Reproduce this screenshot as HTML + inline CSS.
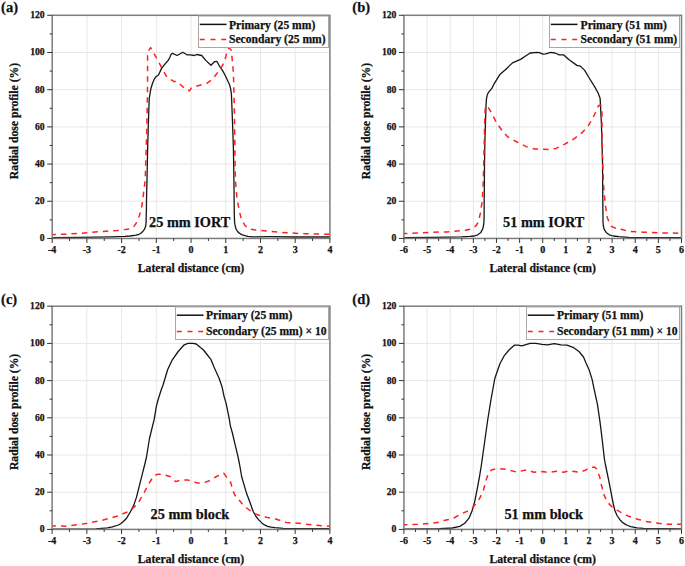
<!DOCTYPE html>
<html><head><meta charset="utf-8"><title>Radial dose profiles</title>
<style>html,body{margin:0;padding:0;background:#fff;width:685px;height:566px;overflow:hidden}
svg text{font-family:"Liberation Serif", serif;fill:#111;stroke:#111;stroke-width:0.25px}</style></head>
<body>
<svg width="685" height="566" viewBox="0 0 685 566" style="display:block">
<rect width="685" height="566" fill="#fff"/>
<g><line x1="86.91" y1="15.3" x2="86.91" y2="238.45" stroke="#e7e7e7" stroke-width="1"/><line x1="121.62" y1="15.3" x2="121.62" y2="238.45" stroke="#e7e7e7" stroke-width="1"/><line x1="156.34" y1="15.3" x2="156.34" y2="238.45" stroke="#e7e7e7" stroke-width="1"/><line x1="191.05" y1="15.3" x2="191.05" y2="238.45" stroke="#e7e7e7" stroke-width="1"/><line x1="225.76" y1="15.3" x2="225.76" y2="238.45" stroke="#e7e7e7" stroke-width="1"/><line x1="260.47" y1="15.3" x2="260.47" y2="238.45" stroke="#e7e7e7" stroke-width="1"/><line x1="295.19" y1="15.3" x2="295.19" y2="238.45" stroke="#e7e7e7" stroke-width="1"/><line x1="52.2" y1="201.26" x2="329.9" y2="201.26" stroke="#e7e7e7" stroke-width="1"/><line x1="52.2" y1="164.07" x2="329.9" y2="164.07" stroke="#e7e7e7" stroke-width="1"/><line x1="52.2" y1="126.88" x2="329.9" y2="126.88" stroke="#e7e7e7" stroke-width="1"/><line x1="52.2" y1="89.68" x2="329.9" y2="89.68" stroke="#e7e7e7" stroke-width="1"/><line x1="52.2" y1="52.49" x2="329.9" y2="52.49" stroke="#e7e7e7" stroke-width="1"/><polyline points="52.2,237.7 81.2,237.4 110.4,236.9 125,236.4 130,236 136.1,235.2 139,234.3 140.9,233.2 143,231.2 144.4,229.4 145.6,226.5 146.1,222.5 146.2,217 146.4,209.2 146.6,194.6 147,180 147.6,150 148.3,125 148.8,110 149.3,98 150.2,92.7 151,88.2 152.4,83.8 154.1,79.4 155.9,76.8 158.5,75 159.9,71.9 161.6,68.4 164.3,64.9 166.5,62.2 168.2,60.4 169.8,57.5 171.1,54.2 172.4,53.3 177.2,55.5 182.8,52.3 186.9,54.8 190.4,54.8 194.5,55.5 196.6,54.5 201.7,55.5 205.8,60.4 210.9,65.3 214.5,61.7 217,61.5 220.1,67.2 222.6,70.6 225.5,76 227.9,81.2 229.5,84.5 230.6,88.7 231.4,94 231.9,106.2 232.7,127.4 233.4,148.6 233.7,165 234.1,195.7 234.3,215 234.6,222.5 235.2,226 236.3,229.6 238.3,232.4 240.3,233.8 242.3,234.8 245,235.7 247.9,236.4 252,236.8 271,236.7 294,237 329.8,237" fill="none" stroke="#161616" stroke-width="1.3" stroke-linejoin="round"/><polyline points="52.2,234.7 69.5,234 87,232.8 103.1,231.4 117.7,230.4 129.4,228.9 133.8,226.7 136.7,222.3 139.6,215 141.8,206.3 143.2,196.1 144.3,187.3 145.2,180 146.8,130 147.5,90 147.6,52.2 150.6,47.6 158.5,61.5 161.8,68.2 167.1,77.4 173.8,81.4 177.1,81.4 185.3,89 189.5,90.9 191.5,87.5 200.7,85 206.8,83.4 212.9,78.8 219,70.7 224.2,62.5 226.7,53.3 228.8,47.7 231.3,50.2 232.3,60.4 233.4,72.7 233.9,90 234.4,113.3 234.8,141.5 235.1,165 235.4,180.3 237,198.7 238.8,207.9 241.1,218.6 244.9,225.5 249.5,229.1 255.7,230.1 267.9,231.2 286.3,232.8 304.7,233.7 329.8,234.3" fill="none" stroke="#ff2020" stroke-width="1.5" stroke-dasharray="5.5 5" stroke-dashoffset="1.8" stroke-linejoin="round"/><rect x="52.2" y="15.3" width="277.7" height="223.15" fill="none" stroke="#7c7c7c" stroke-width="1.5"/><line x1="47.2" y1="238.45" x2="52.2" y2="238.45" stroke="#333" stroke-width="1"/><text x="44.7" y="241.35" text-anchor="end" font-size="9.7" font-weight="bold">0</text><line x1="49.7" y1="219.85" x2="52.2" y2="219.85" stroke="#333" stroke-width="1"/><line x1="47.2" y1="201.26" x2="52.2" y2="201.26" stroke="#333" stroke-width="1"/><text x="44.7" y="204.16" text-anchor="end" font-size="9.7" font-weight="bold">20</text><line x1="49.7" y1="182.66" x2="52.2" y2="182.66" stroke="#333" stroke-width="1"/><line x1="47.2" y1="164.07" x2="52.2" y2="164.07" stroke="#333" stroke-width="1"/><text x="44.7" y="166.97" text-anchor="end" font-size="9.7" font-weight="bold">40</text><line x1="49.7" y1="145.47" x2="52.2" y2="145.47" stroke="#333" stroke-width="1"/><line x1="47.2" y1="126.88" x2="52.2" y2="126.88" stroke="#333" stroke-width="1"/><text x="44.7" y="129.78" text-anchor="end" font-size="9.7" font-weight="bold">60</text><line x1="49.7" y1="108.28" x2="52.2" y2="108.28" stroke="#333" stroke-width="1"/><line x1="47.2" y1="89.68" x2="52.2" y2="89.68" stroke="#333" stroke-width="1"/><text x="44.7" y="92.58" text-anchor="end" font-size="9.7" font-weight="bold">80</text><line x1="49.7" y1="71.09" x2="52.2" y2="71.09" stroke="#333" stroke-width="1"/><line x1="47.2" y1="52.49" x2="52.2" y2="52.49" stroke="#333" stroke-width="1"/><text x="44.7" y="55.39" text-anchor="end" font-size="9.7" font-weight="bold">100</text><line x1="49.7" y1="33.9" x2="52.2" y2="33.9" stroke="#333" stroke-width="1"/><line x1="47.2" y1="15.3" x2="52.2" y2="15.3" stroke="#333" stroke-width="1"/><text x="44.7" y="18.2" text-anchor="end" font-size="9.7" font-weight="bold">120</text><line x1="52.2" y1="238.45" x2="52.2" y2="242.95" stroke="#333" stroke-width="1"/><text x="52.2" y="253.05" text-anchor="middle" font-size="10" font-weight="bold">-4</text><line x1="69.56" y1="238.45" x2="69.56" y2="240.95" stroke="#333" stroke-width="1"/><line x1="86.91" y1="238.45" x2="86.91" y2="242.95" stroke="#333" stroke-width="1"/><text x="86.91" y="253.05" text-anchor="middle" font-size="10" font-weight="bold">-3</text><line x1="104.27" y1="238.45" x2="104.27" y2="240.95" stroke="#333" stroke-width="1"/><line x1="121.62" y1="238.45" x2="121.62" y2="242.95" stroke="#333" stroke-width="1"/><text x="121.62" y="253.05" text-anchor="middle" font-size="10" font-weight="bold">-2</text><line x1="138.98" y1="238.45" x2="138.98" y2="240.95" stroke="#333" stroke-width="1"/><line x1="156.34" y1="238.45" x2="156.34" y2="242.95" stroke="#333" stroke-width="1"/><text x="156.34" y="253.05" text-anchor="middle" font-size="10" font-weight="bold">-1</text><line x1="173.69" y1="238.45" x2="173.69" y2="240.95" stroke="#333" stroke-width="1"/><line x1="191.05" y1="238.45" x2="191.05" y2="242.95" stroke="#333" stroke-width="1"/><text x="191.05" y="253.05" text-anchor="middle" font-size="10" font-weight="bold">0</text><line x1="208.41" y1="238.45" x2="208.41" y2="240.95" stroke="#333" stroke-width="1"/><line x1="225.76" y1="238.45" x2="225.76" y2="242.95" stroke="#333" stroke-width="1"/><text x="225.76" y="253.05" text-anchor="middle" font-size="10" font-weight="bold">1</text><line x1="243.12" y1="238.45" x2="243.12" y2="240.95" stroke="#333" stroke-width="1"/><line x1="260.47" y1="238.45" x2="260.47" y2="242.95" stroke="#333" stroke-width="1"/><text x="260.47" y="253.05" text-anchor="middle" font-size="10" font-weight="bold">2</text><line x1="277.83" y1="238.45" x2="277.83" y2="240.95" stroke="#333" stroke-width="1"/><line x1="295.19" y1="238.45" x2="295.19" y2="242.95" stroke="#333" stroke-width="1"/><text x="295.19" y="253.05" text-anchor="middle" font-size="10" font-weight="bold">3</text><line x1="312.54" y1="238.45" x2="312.54" y2="240.95" stroke="#333" stroke-width="1"/><line x1="329.9" y1="238.45" x2="329.9" y2="242.95" stroke="#333" stroke-width="1"/><text x="329.9" y="253.05" text-anchor="middle" font-size="10" font-weight="bold">4</text><text x="191.05" y="271.95" text-anchor="middle" font-size="11.7" font-weight="bold">Lateral distance (cm)</text><text transform="translate(17.9,120.97) rotate(-90)" text-anchor="middle" font-size="11.7" font-weight="bold">Radial dose profile (%)</text><text x="1.1" y="11.8" font-size="14.5" font-weight="bold">(a)</text><text x="189.7" y="227.3" text-anchor="middle" font-size="14.3" font-weight="bold">25 mm IORT</text><rect x="198.5" y="16.05" width="130" height="31.45" fill="#fff" stroke="#a8a8a8" stroke-width="1"/><line x1="199.8" y1="24.4" x2="226.5" y2="24.4" stroke="#111" stroke-width="1.5"/><line x1="199.8" y1="39.4" x2="226.5" y2="39.4" stroke="#ff2020" stroke-width="1.5" stroke-dasharray="5 5.7"/><text x="229" y="28.6" font-size="11.6" font-weight="bold">Primary (25 mm)</text><text x="229" y="42.9" font-size="11.6" font-weight="bold">Secondary (25 mm)</text></g>
<g><line x1="427.08" y1="15.3" x2="427.08" y2="238.45" stroke="#e7e7e7" stroke-width="1"/><line x1="450.21" y1="15.3" x2="450.21" y2="238.45" stroke="#e7e7e7" stroke-width="1"/><line x1="473.34" y1="15.3" x2="473.34" y2="238.45" stroke="#e7e7e7" stroke-width="1"/><line x1="496.47" y1="15.3" x2="496.47" y2="238.45" stroke="#e7e7e7" stroke-width="1"/><line x1="519.6" y1="15.3" x2="519.6" y2="238.45" stroke="#e7e7e7" stroke-width="1"/><line x1="542.73" y1="15.3" x2="542.73" y2="238.45" stroke="#e7e7e7" stroke-width="1"/><line x1="565.85" y1="15.3" x2="565.85" y2="238.45" stroke="#e7e7e7" stroke-width="1"/><line x1="588.98" y1="15.3" x2="588.98" y2="238.45" stroke="#e7e7e7" stroke-width="1"/><line x1="612.11" y1="15.3" x2="612.11" y2="238.45" stroke="#e7e7e7" stroke-width="1"/><line x1="635.24" y1="15.3" x2="635.24" y2="238.45" stroke="#e7e7e7" stroke-width="1"/><line x1="658.37" y1="15.3" x2="658.37" y2="238.45" stroke="#e7e7e7" stroke-width="1"/><line x1="403.95" y1="201.26" x2="681.5" y2="201.26" stroke="#e7e7e7" stroke-width="1"/><line x1="403.95" y1="164.07" x2="681.5" y2="164.07" stroke="#e7e7e7" stroke-width="1"/><line x1="403.95" y1="126.88" x2="681.5" y2="126.88" stroke="#e7e7e7" stroke-width="1"/><line x1="403.95" y1="89.68" x2="681.5" y2="89.68" stroke="#e7e7e7" stroke-width="1"/><line x1="403.95" y1="52.49" x2="681.5" y2="52.49" stroke="#e7e7e7" stroke-width="1"/><polyline points="403.7,237.6 432.2,237.3 461.4,236.8 469.8,236.4 474.5,236 477.7,234.8 480.9,232.4 482.9,228.4 483.8,224 484.1,218 484.2,201.5 484.5,165 484.9,140.9 486,106.5 486.4,99.4 487.2,95 488.5,92.3 492,88.1 494.1,83.8 499.8,74.6 505.4,69.7 512.5,62.9 521,59.1 525.2,56.3 530.2,53 536.5,52.4 539.4,52.7 542.9,54.1 545.7,53.9 550.7,52.4 555,53 559.2,54.8 563.5,54.8 569.1,59.8 576.9,65.4 580.4,66.1 584.7,70.4 588.9,77.5 594.6,86.6 598.1,93 600,98 600.2,99.6 601.4,123.7 602.5,160 602.8,201.5 603,222 603.3,225.5 604.1,229.2 606.1,232.4 609.3,234.8 613.3,236 618.9,236.6 628.8,237.3 681.4,237.6" fill="none" stroke="#161616" stroke-width="1.3" stroke-linejoin="round"/><polyline points="403.7,233.6 417.6,232.9 432.2,232.2 446.8,231.9 461.4,230.7 466,230.2 470.6,229.2 474.5,227.2 476.5,225 478.1,222.4 479.3,217.7 480.5,212.9 481.3,206.9 482.1,201.8 482.6,195 483.1,185 483.4,176.7 483.7,165 484.3,140 484.8,115 485.5,105.9 488.3,107.6 491.8,113.4 496.4,122.5 502.1,130.6 507.8,136.9 517,142 526.2,146.6 534.2,148.9 542.3,149.2 550.3,149.5 556.1,148.4 565.2,143.8 574.4,138.6 582.5,132.3 588.2,126 592.8,118 596.2,111.1 598.5,105.6 600.8,105.3 602,112.2 602,129.4 602.5,160 602.8,165 603.7,186.9 604.6,198 605.5,206 606.5,212.1 607.3,217.7 609.3,222.4 611.3,226.4 616.1,228.4 622,229.6 628.8,231.4 643.4,232.2 658,232.9 681.4,233.2" fill="none" stroke="#ff2020" stroke-width="1.5" stroke-dasharray="5.5 5" stroke-dashoffset="1.8" stroke-linejoin="round"/><rect x="403.95" y="15.3" width="277.55" height="223.15" fill="none" stroke="#7c7c7c" stroke-width="1.5"/><line x1="398.95" y1="238.45" x2="403.95" y2="238.45" stroke="#333" stroke-width="1"/><text x="396.45" y="241.35" text-anchor="end" font-size="9.7" font-weight="bold">0</text><line x1="401.45" y1="219.85" x2="403.95" y2="219.85" stroke="#333" stroke-width="1"/><line x1="398.95" y1="201.26" x2="403.95" y2="201.26" stroke="#333" stroke-width="1"/><text x="396.45" y="204.16" text-anchor="end" font-size="9.7" font-weight="bold">20</text><line x1="401.45" y1="182.66" x2="403.95" y2="182.66" stroke="#333" stroke-width="1"/><line x1="398.95" y1="164.07" x2="403.95" y2="164.07" stroke="#333" stroke-width="1"/><text x="396.45" y="166.97" text-anchor="end" font-size="9.7" font-weight="bold">40</text><line x1="401.45" y1="145.47" x2="403.95" y2="145.47" stroke="#333" stroke-width="1"/><line x1="398.95" y1="126.88" x2="403.95" y2="126.88" stroke="#333" stroke-width="1"/><text x="396.45" y="129.78" text-anchor="end" font-size="9.7" font-weight="bold">60</text><line x1="401.45" y1="108.28" x2="403.95" y2="108.28" stroke="#333" stroke-width="1"/><line x1="398.95" y1="89.68" x2="403.95" y2="89.68" stroke="#333" stroke-width="1"/><text x="396.45" y="92.58" text-anchor="end" font-size="9.7" font-weight="bold">80</text><line x1="401.45" y1="71.09" x2="403.95" y2="71.09" stroke="#333" stroke-width="1"/><line x1="398.95" y1="52.49" x2="403.95" y2="52.49" stroke="#333" stroke-width="1"/><text x="396.45" y="55.39" text-anchor="end" font-size="9.7" font-weight="bold">100</text><line x1="401.45" y1="33.9" x2="403.95" y2="33.9" stroke="#333" stroke-width="1"/><line x1="398.95" y1="15.3" x2="403.95" y2="15.3" stroke="#333" stroke-width="1"/><text x="396.45" y="18.2" text-anchor="end" font-size="9.7" font-weight="bold">120</text><line x1="403.95" y1="238.45" x2="403.95" y2="242.95" stroke="#333" stroke-width="1"/><text x="403.95" y="253.05" text-anchor="middle" font-size="10" font-weight="bold">-6</text><line x1="415.51" y1="238.45" x2="415.51" y2="240.95" stroke="#333" stroke-width="1"/><line x1="427.08" y1="238.45" x2="427.08" y2="242.95" stroke="#333" stroke-width="1"/><text x="427.08" y="253.05" text-anchor="middle" font-size="10" font-weight="bold">-5</text><line x1="438.64" y1="238.45" x2="438.64" y2="240.95" stroke="#333" stroke-width="1"/><line x1="450.21" y1="238.45" x2="450.21" y2="242.95" stroke="#333" stroke-width="1"/><text x="450.21" y="253.05" text-anchor="middle" font-size="10" font-weight="bold">-4</text><line x1="461.77" y1="238.45" x2="461.77" y2="240.95" stroke="#333" stroke-width="1"/><line x1="473.34" y1="238.45" x2="473.34" y2="242.95" stroke="#333" stroke-width="1"/><text x="473.34" y="253.05" text-anchor="middle" font-size="10" font-weight="bold">-3</text><line x1="484.9" y1="238.45" x2="484.9" y2="240.95" stroke="#333" stroke-width="1"/><line x1="496.47" y1="238.45" x2="496.47" y2="242.95" stroke="#333" stroke-width="1"/><text x="496.47" y="253.05" text-anchor="middle" font-size="10" font-weight="bold">-2</text><line x1="508.03" y1="238.45" x2="508.03" y2="240.95" stroke="#333" stroke-width="1"/><line x1="519.6" y1="238.45" x2="519.6" y2="242.95" stroke="#333" stroke-width="1"/><text x="519.6" y="253.05" text-anchor="middle" font-size="10" font-weight="bold">-1</text><line x1="531.16" y1="238.45" x2="531.16" y2="240.95" stroke="#333" stroke-width="1"/><line x1="542.73" y1="238.45" x2="542.73" y2="242.95" stroke="#333" stroke-width="1"/><text x="542.73" y="253.05" text-anchor="middle" font-size="10" font-weight="bold">0</text><line x1="554.29" y1="238.45" x2="554.29" y2="240.95" stroke="#333" stroke-width="1"/><line x1="565.85" y1="238.45" x2="565.85" y2="242.95" stroke="#333" stroke-width="1"/><text x="565.85" y="253.05" text-anchor="middle" font-size="10" font-weight="bold">1</text><line x1="577.42" y1="238.45" x2="577.42" y2="240.95" stroke="#333" stroke-width="1"/><line x1="588.98" y1="238.45" x2="588.98" y2="242.95" stroke="#333" stroke-width="1"/><text x="588.98" y="253.05" text-anchor="middle" font-size="10" font-weight="bold">2</text><line x1="600.55" y1="238.45" x2="600.55" y2="240.95" stroke="#333" stroke-width="1"/><line x1="612.11" y1="238.45" x2="612.11" y2="242.95" stroke="#333" stroke-width="1"/><text x="612.11" y="253.05" text-anchor="middle" font-size="10" font-weight="bold">3</text><line x1="623.68" y1="238.45" x2="623.68" y2="240.95" stroke="#333" stroke-width="1"/><line x1="635.24" y1="238.45" x2="635.24" y2="242.95" stroke="#333" stroke-width="1"/><text x="635.24" y="253.05" text-anchor="middle" font-size="10" font-weight="bold">4</text><line x1="646.81" y1="238.45" x2="646.81" y2="240.95" stroke="#333" stroke-width="1"/><line x1="658.37" y1="238.45" x2="658.37" y2="242.95" stroke="#333" stroke-width="1"/><text x="658.37" y="253.05" text-anchor="middle" font-size="10" font-weight="bold">5</text><line x1="669.94" y1="238.45" x2="669.94" y2="240.95" stroke="#333" stroke-width="1"/><line x1="681.5" y1="238.45" x2="681.5" y2="242.95" stroke="#333" stroke-width="1"/><text x="681.5" y="253.05" text-anchor="middle" font-size="10" font-weight="bold">6</text><text x="542.73" y="271.95" text-anchor="middle" font-size="11.7" font-weight="bold">Lateral distance (cm)</text><text transform="translate(369.65,120.97) rotate(-90)" text-anchor="middle" font-size="11.7" font-weight="bold">Radial dose profile (%)</text><text x="352.3" y="11.8" font-size="14.5" font-weight="bold">(b)</text><text x="543.7" y="227.3" text-anchor="middle" font-size="14.3" font-weight="bold">51 mm IORT</text><rect x="549.5" y="16.05" width="130" height="31.45" fill="#fff" stroke="#a8a8a8" stroke-width="1"/><line x1="550.8" y1="24.4" x2="577.5" y2="24.4" stroke="#111" stroke-width="1.5"/><line x1="550.8" y1="39.4" x2="577.5" y2="39.4" stroke="#ff2020" stroke-width="1.5" stroke-dasharray="5 5.7"/><text x="580.6" y="28.6" font-size="11.6" font-weight="bold">Primary (51 mm)</text><text x="580.6" y="42.9" font-size="11.6" font-weight="bold">Secondary (51 mm)</text></g>
<g><line x1="86.82" y1="306.2" x2="86.82" y2="529.4" stroke="#e7e7e7" stroke-width="1"/><line x1="121.55" y1="306.2" x2="121.55" y2="529.4" stroke="#e7e7e7" stroke-width="1"/><line x1="156.27" y1="306.2" x2="156.27" y2="529.4" stroke="#e7e7e7" stroke-width="1"/><line x1="191" y1="306.2" x2="191" y2="529.4" stroke="#e7e7e7" stroke-width="1"/><line x1="225.72" y1="306.2" x2="225.72" y2="529.4" stroke="#e7e7e7" stroke-width="1"/><line x1="260.45" y1="306.2" x2="260.45" y2="529.4" stroke="#e7e7e7" stroke-width="1"/><line x1="295.17" y1="306.2" x2="295.17" y2="529.4" stroke="#e7e7e7" stroke-width="1"/><line x1="52.1" y1="492.2" x2="329.9" y2="492.2" stroke="#e7e7e7" stroke-width="1"/><line x1="52.1" y1="455" x2="329.9" y2="455" stroke="#e7e7e7" stroke-width="1"/><line x1="52.1" y1="417.8" x2="329.9" y2="417.8" stroke="#e7e7e7" stroke-width="1"/><line x1="52.1" y1="380.6" x2="329.9" y2="380.6" stroke="#e7e7e7" stroke-width="1"/><line x1="52.1" y1="343.4" x2="329.9" y2="343.4" stroke="#e7e7e7" stroke-width="1"/><polyline points="52.2,529.2 95.8,528.9 107.5,527.9 112.4,526.8 118.6,525 122.3,522.5 126.6,518.2 130.3,512 134,504.6 136.5,497.1 139,487.2 142.1,474.9 144.6,465 146.5,457 149.4,439 151.8,429 154.2,419.4 156.3,406.7 158,400 159.9,394 161.5,389 163.2,384.5 167.7,369.5 172.3,359.8 178.2,351.5 184.2,344.8 188,343.3 193.2,343.3 196.2,344 203.5,350 207,354.5 210.7,359.1 214.2,367.6 219.1,378.2 222,386.7 224.1,396.6 226.2,403.6 227.6,410.7 229.3,419 230.3,425.6 232.4,433 235.1,444.7 237.7,455.3 239.5,464 240.8,471.5 241.6,476.5 243.4,482.6 246.8,494.1 250.3,503.3 253.2,511.5 256,516.5 258.8,519.9 261.8,522.9 264.5,524.9 267.5,526.3 271,527.2 275,527.7 283.2,528.3 329.8,528.6" fill="none" stroke="#161616" stroke-width="1.3" stroke-linejoin="round"/><polyline points="52.2,525.8 66.6,526.2 85.6,523.6 103.1,520 112.4,517.5 118.6,515.7 123.5,513.5 129.1,511.2 133.4,507.6 137.8,503.9 140.8,498.4 143.3,494.7 145.8,489.3 148.3,484.8 151.4,479.5 155.7,474.9 158.1,474.3 162.5,474.3 169.8,476.5 175.7,481.6 181.5,479.9 187.3,479.9 193.2,481.6 197.6,483.1 204.9,482.4 210.7,480.2 216.5,476.5 223.8,473.3 227.3,478.3 230.7,482.5 232,487.5 233.6,492.4 235.9,497 239.9,501 243.4,505.5 247.4,508.5 252.6,512.3 256,514.3 261.8,516 266.4,517.3 272.1,518.4 275.6,519 286.3,522.4 298.6,523.2 313.9,525.2 329.8,526.3" fill="none" stroke="#ff2020" stroke-width="1.5" stroke-dasharray="5.5 5" stroke-dashoffset="1.8" stroke-linejoin="round"/><rect x="52.1" y="306.2" width="277.8" height="223.2" fill="none" stroke="#7c7c7c" stroke-width="1.5"/><line x1="47.1" y1="529.4" x2="52.1" y2="529.4" stroke="#333" stroke-width="1"/><text x="44.6" y="532.3" text-anchor="end" font-size="9.7" font-weight="bold">0</text><line x1="49.6" y1="510.8" x2="52.1" y2="510.8" stroke="#333" stroke-width="1"/><line x1="47.1" y1="492.2" x2="52.1" y2="492.2" stroke="#333" stroke-width="1"/><text x="44.6" y="495.1" text-anchor="end" font-size="9.7" font-weight="bold">20</text><line x1="49.6" y1="473.6" x2="52.1" y2="473.6" stroke="#333" stroke-width="1"/><line x1="47.1" y1="455" x2="52.1" y2="455" stroke="#333" stroke-width="1"/><text x="44.6" y="457.9" text-anchor="end" font-size="9.7" font-weight="bold">40</text><line x1="49.6" y1="436.4" x2="52.1" y2="436.4" stroke="#333" stroke-width="1"/><line x1="47.1" y1="417.8" x2="52.1" y2="417.8" stroke="#333" stroke-width="1"/><text x="44.6" y="420.7" text-anchor="end" font-size="9.7" font-weight="bold">60</text><line x1="49.6" y1="399.2" x2="52.1" y2="399.2" stroke="#333" stroke-width="1"/><line x1="47.1" y1="380.6" x2="52.1" y2="380.6" stroke="#333" stroke-width="1"/><text x="44.6" y="383.5" text-anchor="end" font-size="9.7" font-weight="bold">80</text><line x1="49.6" y1="362" x2="52.1" y2="362" stroke="#333" stroke-width="1"/><line x1="47.1" y1="343.4" x2="52.1" y2="343.4" stroke="#333" stroke-width="1"/><text x="44.6" y="346.3" text-anchor="end" font-size="9.7" font-weight="bold">100</text><line x1="49.6" y1="324.8" x2="52.1" y2="324.8" stroke="#333" stroke-width="1"/><line x1="47.1" y1="306.2" x2="52.1" y2="306.2" stroke="#333" stroke-width="1"/><text x="44.6" y="309.1" text-anchor="end" font-size="9.7" font-weight="bold">120</text><line x1="52.1" y1="529.4" x2="52.1" y2="533.9" stroke="#333" stroke-width="1"/><text x="52.1" y="544" text-anchor="middle" font-size="10" font-weight="bold">-4</text><line x1="69.46" y1="529.4" x2="69.46" y2="531.9" stroke="#333" stroke-width="1"/><line x1="86.82" y1="529.4" x2="86.82" y2="533.9" stroke="#333" stroke-width="1"/><text x="86.82" y="544" text-anchor="middle" font-size="10" font-weight="bold">-3</text><line x1="104.19" y1="529.4" x2="104.19" y2="531.9" stroke="#333" stroke-width="1"/><line x1="121.55" y1="529.4" x2="121.55" y2="533.9" stroke="#333" stroke-width="1"/><text x="121.55" y="544" text-anchor="middle" font-size="10" font-weight="bold">-2</text><line x1="138.91" y1="529.4" x2="138.91" y2="531.9" stroke="#333" stroke-width="1"/><line x1="156.27" y1="529.4" x2="156.27" y2="533.9" stroke="#333" stroke-width="1"/><text x="156.27" y="544" text-anchor="middle" font-size="10" font-weight="bold">-1</text><line x1="173.64" y1="529.4" x2="173.64" y2="531.9" stroke="#333" stroke-width="1"/><line x1="191" y1="529.4" x2="191" y2="533.9" stroke="#333" stroke-width="1"/><text x="191" y="544" text-anchor="middle" font-size="10" font-weight="bold">0</text><line x1="208.36" y1="529.4" x2="208.36" y2="531.9" stroke="#333" stroke-width="1"/><line x1="225.72" y1="529.4" x2="225.72" y2="533.9" stroke="#333" stroke-width="1"/><text x="225.72" y="544" text-anchor="middle" font-size="10" font-weight="bold">1</text><line x1="243.09" y1="529.4" x2="243.09" y2="531.9" stroke="#333" stroke-width="1"/><line x1="260.45" y1="529.4" x2="260.45" y2="533.9" stroke="#333" stroke-width="1"/><text x="260.45" y="544" text-anchor="middle" font-size="10" font-weight="bold">2</text><line x1="277.81" y1="529.4" x2="277.81" y2="531.9" stroke="#333" stroke-width="1"/><line x1="295.17" y1="529.4" x2="295.17" y2="533.9" stroke="#333" stroke-width="1"/><text x="295.17" y="544" text-anchor="middle" font-size="10" font-weight="bold">3</text><line x1="312.54" y1="529.4" x2="312.54" y2="531.9" stroke="#333" stroke-width="1"/><line x1="329.9" y1="529.4" x2="329.9" y2="533.9" stroke="#333" stroke-width="1"/><text x="329.9" y="544" text-anchor="middle" font-size="10" font-weight="bold">4</text><text x="191" y="562.9" text-anchor="middle" font-size="11.7" font-weight="bold">Lateral distance (cm)</text><text transform="translate(17.8,411.9) rotate(-90)" text-anchor="middle" font-size="11.7" font-weight="bold">Radial dose profile (%)</text><text x="1.1" y="303.5" font-size="14.5" font-weight="bold">(c)</text><text x="189.9" y="518.5" text-anchor="middle" font-size="14.3" font-weight="bold">25 mm block</text><rect x="175.5" y="306.95" width="153" height="32.55" fill="#fff" stroke="#a8a8a8" stroke-width="1"/><line x1="176.8" y1="315.2" x2="203.5" y2="315.2" stroke="#111" stroke-width="1.5"/><line x1="176.8" y1="331.4" x2="203.5" y2="331.4" stroke="#ff2020" stroke-width="1.5" stroke-dasharray="5 5.7"/><text x="206" y="319.2" font-size="11.6" font-weight="bold">Primary (25 mm)</text><text x="206" y="334.5" font-size="11.6" font-weight="bold">Secondary (25 mm) × 10</text></g>
<g><line x1="427.08" y1="306.2" x2="427.08" y2="529.4" stroke="#e7e7e7" stroke-width="1"/><line x1="450.21" y1="306.2" x2="450.21" y2="529.4" stroke="#e7e7e7" stroke-width="1"/><line x1="473.34" y1="306.2" x2="473.34" y2="529.4" stroke="#e7e7e7" stroke-width="1"/><line x1="496.47" y1="306.2" x2="496.47" y2="529.4" stroke="#e7e7e7" stroke-width="1"/><line x1="519.6" y1="306.2" x2="519.6" y2="529.4" stroke="#e7e7e7" stroke-width="1"/><line x1="542.73" y1="306.2" x2="542.73" y2="529.4" stroke="#e7e7e7" stroke-width="1"/><line x1="565.85" y1="306.2" x2="565.85" y2="529.4" stroke="#e7e7e7" stroke-width="1"/><line x1="588.98" y1="306.2" x2="588.98" y2="529.4" stroke="#e7e7e7" stroke-width="1"/><line x1="612.11" y1="306.2" x2="612.11" y2="529.4" stroke="#e7e7e7" stroke-width="1"/><line x1="635.24" y1="306.2" x2="635.24" y2="529.4" stroke="#e7e7e7" stroke-width="1"/><line x1="658.37" y1="306.2" x2="658.37" y2="529.4" stroke="#e7e7e7" stroke-width="1"/><line x1="403.95" y1="492.2" x2="681.5" y2="492.2" stroke="#e7e7e7" stroke-width="1"/><line x1="403.95" y1="455" x2="681.5" y2="455" stroke="#e7e7e7" stroke-width="1"/><line x1="403.95" y1="417.8" x2="681.5" y2="417.8" stroke="#e7e7e7" stroke-width="1"/><line x1="403.95" y1="380.6" x2="681.5" y2="380.6" stroke="#e7e7e7" stroke-width="1"/><line x1="403.95" y1="343.4" x2="681.5" y2="343.4" stroke="#e7e7e7" stroke-width="1"/><polyline points="403.7,529.2 439.5,528.7 452.4,528 459.8,526.4 464.7,523.3 469,518.2 472.1,510.7 474.6,502.1 477.1,489.7 479.6,476.1 481.4,465 482.8,455 487.7,420 491,399.5 494.8,378.5 500,363.5 504.5,355.3 509,350 514.3,345.2 518,345.2 521.8,345.8 530,343.3 536,343.3 542,344.3 547.5,344.8 554.3,343.7 561,344.8 567,345.2 573,347.3 579,351.5 583.5,357 586,363 589.4,370.6 592.1,379.4 594.7,391.8 597.4,404.2 600,421.8 602,438 603.6,452 604.4,459 605.5,465 608.6,479.8 611.7,495.9 613.3,504 614.8,510.2 617,515.5 619.7,519.4 622,522 624.7,523.9 627.5,525.5 630.8,526.7 637,527.8 643.4,528.4 681.4,529" fill="none" stroke="#161616" stroke-width="1.3" stroke-linejoin="round"/><polyline points="403.7,524.8 417.6,524.3 432.2,523.3 440,522 445,520.3 449.9,519.3 454.8,517.5 459.8,514.6 464.1,512.6 469.7,510.1 472.1,508.3 477.1,502.1 479.6,498.4 482.6,492.5 483.9,488.5 485.7,481.5 487,477.4 488.8,472.6 491.3,470 497,468.6 505.8,469.3 516.3,472 526.8,469.9 533.8,472.2 542.6,471.6 547.8,472.5 556.6,471.3 563.6,472.2 568.8,470.8 574.1,471.6 579.3,472.3 582,471.4 585.3,470.3 588,468.6 590.6,467.2 594.9,467.2 596.5,469 598,472.7 599.8,477.3 600.9,483.3 602.3,488.3 603.4,493.5 605.5,498.2 607.5,502.3 612.7,507.6 620,511.9 628.8,516.3 637.6,519.2 646.3,521.4 655.1,522.9 666.8,524.3 681.4,524.3" fill="none" stroke="#ff2020" stroke-width="1.5" stroke-dasharray="5.5 5" stroke-dashoffset="1.8" stroke-linejoin="round"/><rect x="403.95" y="306.2" width="277.55" height="223.2" fill="none" stroke="#7c7c7c" stroke-width="1.5"/><line x1="398.95" y1="529.4" x2="403.95" y2="529.4" stroke="#333" stroke-width="1"/><text x="396.45" y="532.3" text-anchor="end" font-size="9.7" font-weight="bold">0</text><line x1="401.45" y1="510.8" x2="403.95" y2="510.8" stroke="#333" stroke-width="1"/><line x1="398.95" y1="492.2" x2="403.95" y2="492.2" stroke="#333" stroke-width="1"/><text x="396.45" y="495.1" text-anchor="end" font-size="9.7" font-weight="bold">20</text><line x1="401.45" y1="473.6" x2="403.95" y2="473.6" stroke="#333" stroke-width="1"/><line x1="398.95" y1="455" x2="403.95" y2="455" stroke="#333" stroke-width="1"/><text x="396.45" y="457.9" text-anchor="end" font-size="9.7" font-weight="bold">40</text><line x1="401.45" y1="436.4" x2="403.95" y2="436.4" stroke="#333" stroke-width="1"/><line x1="398.95" y1="417.8" x2="403.95" y2="417.8" stroke="#333" stroke-width="1"/><text x="396.45" y="420.7" text-anchor="end" font-size="9.7" font-weight="bold">60</text><line x1="401.45" y1="399.2" x2="403.95" y2="399.2" stroke="#333" stroke-width="1"/><line x1="398.95" y1="380.6" x2="403.95" y2="380.6" stroke="#333" stroke-width="1"/><text x="396.45" y="383.5" text-anchor="end" font-size="9.7" font-weight="bold">80</text><line x1="401.45" y1="362" x2="403.95" y2="362" stroke="#333" stroke-width="1"/><line x1="398.95" y1="343.4" x2="403.95" y2="343.4" stroke="#333" stroke-width="1"/><text x="396.45" y="346.3" text-anchor="end" font-size="9.7" font-weight="bold">100</text><line x1="401.45" y1="324.8" x2="403.95" y2="324.8" stroke="#333" stroke-width="1"/><line x1="398.95" y1="306.2" x2="403.95" y2="306.2" stroke="#333" stroke-width="1"/><text x="396.45" y="309.1" text-anchor="end" font-size="9.7" font-weight="bold">120</text><line x1="403.95" y1="529.4" x2="403.95" y2="533.9" stroke="#333" stroke-width="1"/><text x="403.95" y="544" text-anchor="middle" font-size="10" font-weight="bold">-6</text><line x1="415.51" y1="529.4" x2="415.51" y2="531.9" stroke="#333" stroke-width="1"/><line x1="427.08" y1="529.4" x2="427.08" y2="533.9" stroke="#333" stroke-width="1"/><text x="427.08" y="544" text-anchor="middle" font-size="10" font-weight="bold">-5</text><line x1="438.64" y1="529.4" x2="438.64" y2="531.9" stroke="#333" stroke-width="1"/><line x1="450.21" y1="529.4" x2="450.21" y2="533.9" stroke="#333" stroke-width="1"/><text x="450.21" y="544" text-anchor="middle" font-size="10" font-weight="bold">-4</text><line x1="461.77" y1="529.4" x2="461.77" y2="531.9" stroke="#333" stroke-width="1"/><line x1="473.34" y1="529.4" x2="473.34" y2="533.9" stroke="#333" stroke-width="1"/><text x="473.34" y="544" text-anchor="middle" font-size="10" font-weight="bold">-3</text><line x1="484.9" y1="529.4" x2="484.9" y2="531.9" stroke="#333" stroke-width="1"/><line x1="496.47" y1="529.4" x2="496.47" y2="533.9" stroke="#333" stroke-width="1"/><text x="496.47" y="544" text-anchor="middle" font-size="10" font-weight="bold">-2</text><line x1="508.03" y1="529.4" x2="508.03" y2="531.9" stroke="#333" stroke-width="1"/><line x1="519.6" y1="529.4" x2="519.6" y2="533.9" stroke="#333" stroke-width="1"/><text x="519.6" y="544" text-anchor="middle" font-size="10" font-weight="bold">-1</text><line x1="531.16" y1="529.4" x2="531.16" y2="531.9" stroke="#333" stroke-width="1"/><line x1="542.73" y1="529.4" x2="542.73" y2="533.9" stroke="#333" stroke-width="1"/><text x="542.73" y="544" text-anchor="middle" font-size="10" font-weight="bold">0</text><line x1="554.29" y1="529.4" x2="554.29" y2="531.9" stroke="#333" stroke-width="1"/><line x1="565.85" y1="529.4" x2="565.85" y2="533.9" stroke="#333" stroke-width="1"/><text x="565.85" y="544" text-anchor="middle" font-size="10" font-weight="bold">1</text><line x1="577.42" y1="529.4" x2="577.42" y2="531.9" stroke="#333" stroke-width="1"/><line x1="588.98" y1="529.4" x2="588.98" y2="533.9" stroke="#333" stroke-width="1"/><text x="588.98" y="544" text-anchor="middle" font-size="10" font-weight="bold">2</text><line x1="600.55" y1="529.4" x2="600.55" y2="531.9" stroke="#333" stroke-width="1"/><line x1="612.11" y1="529.4" x2="612.11" y2="533.9" stroke="#333" stroke-width="1"/><text x="612.11" y="544" text-anchor="middle" font-size="10" font-weight="bold">3</text><line x1="623.68" y1="529.4" x2="623.68" y2="531.9" stroke="#333" stroke-width="1"/><line x1="635.24" y1="529.4" x2="635.24" y2="533.9" stroke="#333" stroke-width="1"/><text x="635.24" y="544" text-anchor="middle" font-size="10" font-weight="bold">4</text><line x1="646.81" y1="529.4" x2="646.81" y2="531.9" stroke="#333" stroke-width="1"/><line x1="658.37" y1="529.4" x2="658.37" y2="533.9" stroke="#333" stroke-width="1"/><text x="658.37" y="544" text-anchor="middle" font-size="10" font-weight="bold">5</text><line x1="669.94" y1="529.4" x2="669.94" y2="531.9" stroke="#333" stroke-width="1"/><line x1="681.5" y1="529.4" x2="681.5" y2="533.9" stroke="#333" stroke-width="1"/><text x="681.5" y="544" text-anchor="middle" font-size="10" font-weight="bold">6</text><text x="542.73" y="562.9" text-anchor="middle" font-size="11.7" font-weight="bold">Lateral distance (cm)</text><text transform="translate(369.65,411.9) rotate(-90)" text-anchor="middle" font-size="11.7" font-weight="bold">Radial dose profile (%)</text><text x="352.3" y="303.5" font-size="14.5" font-weight="bold">(d)</text><text x="543.7" y="518.5" text-anchor="middle" font-size="14.3" font-weight="bold">51 mm block</text><rect x="526.5" y="306.95" width="153" height="32.55" fill="#fff" stroke="#a8a8a8" stroke-width="1"/><line x1="527.8" y1="315.2" x2="554.5" y2="315.2" stroke="#111" stroke-width="1.5"/><line x1="527.8" y1="331.4" x2="554.5" y2="331.4" stroke="#ff2020" stroke-width="1.5" stroke-dasharray="5 5.7"/><text x="557" y="319.2" font-size="11.6" font-weight="bold">Primary (51 mm)</text><text x="557" y="334.5" font-size="11.6" font-weight="bold">Secondary (51 mm) × 10</text></g>
</svg>
</body></html>
